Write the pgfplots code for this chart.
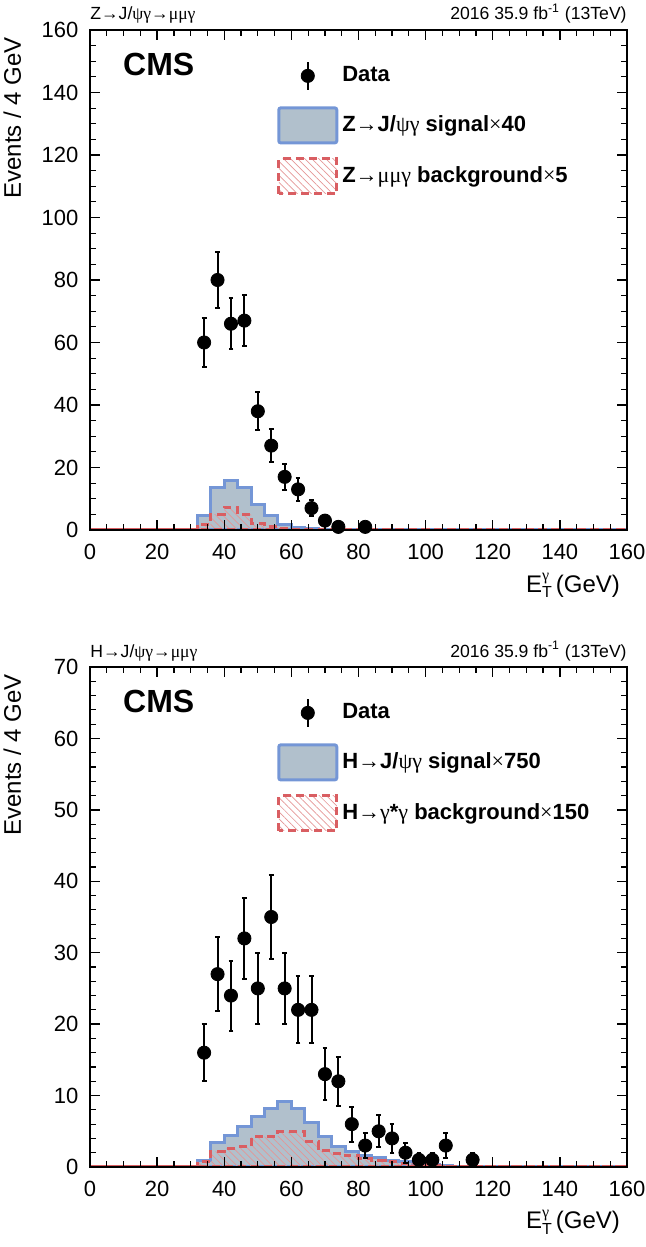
\documentclass[border=0pt]{standalone}
\usepackage{fontspec}
\setmainfont{Liberation Sans}
\newfontfamily\symf{Liberation Serif}
\usepackage{pgfplots}
\pgfplotsset{compat=1.18}
\usetikzlibrary{patterns.meta}

\definecolor{sigfill}{RGB}{177,192,204}
\definecolor{sigline}{RGB}{116,150,214}
\definecolor{bkgline}{RGB}{217,94,98}
\definecolor{bkghatch}{RGB}{228,150,150}
\newcommand{\s}[1]{{\symf\mdseries #1}}

\pgfplotsset{
  cmsax/.style={
    scale only axis, width=268.5pt, height=250pt,
    xmin=0, xmax=160, xtick={0,20,...,160}, minor x tick num=3,
    tickwidth=5pt, subtickwidth=3pt,
    major tick style={draw=black, line width=0.65pt},
    minor tick style={draw=black, line width=0.6pt},
    axis line style={line width=0.8pt},
    clip=false, axis on top,
    xticklabel={\pgfmathparse{int(round(\tick))}\pgfmathresult},
    yticklabel={\pgfmathparse{int(round(\tick))}\pgfmathresult},
    tick label style={font=\fontsize{11}{13}\selectfont},
    xticklabel style={yshift=-3.5pt},
    yticklabel style={xshift=-2.3pt},
    label style={font=\fontsize{12}{14}\selectfont},
    ylabel={Events / 4 GeV},
    ylabel style={at={(axis description cs:-0.115,1)}, anchor=south east},
    xlabel={E\rlap{\raisebox{-0.45ex}{\fontsize{8}{9}\selectfont T}}\raisebox{0.9ex}{\fontsize{8}{9}\selectfont\s{γ}}\ (GeV)},
    xlabel style={at={(axis description cs:1,0)}, anchor=base east, yshift=-31pt},
    legend cell align=left,
    legend style={at={(axis description cs:0.348,0.944)}, anchor=north west,
      draw=none, fill=none, inner sep=0pt, row sep=6.5pt,
      font=\bfseries\fontsize{11}{13}\selectfont},
  },
  sig/.style={const plot, draw=sigline, line width=1.5pt, fill=sigfill},
  bkg/.style={const plot, draw=bkgline, line width=1.5pt, dash pattern=on 4pt off 2.5pt,
    pattern={Lines[angle=-45,distance=2.5pt,line width=0.35pt]}, pattern color=bkghatch},
  dat/.style={only marks, mark=*, mark size=3.3pt, black,
    error bars/.cd, y dir=both, y explicit,
    error bar style={line width=1pt, black},
    error mark=|,
    error mark options={mark size=1.2pt, line width=1pt, black}},
  legdata/.style={legend image code/.code={
    \path[draw=none, fill=none] (0pt,-8.75pt) rectangle (29pt,8.75pt);
    \draw[black, line width=1pt] (14.5pt,-7pt) -- (14.5pt,7pt);
    \fill[black] (14.5pt,0pt) circle (3.3pt);}},
  legsig/.style={legend image code/.code={
    \draw[draw=sigline, line width=1.5pt, fill=sigfill, rounded corners=1pt] (0pt,-8.75pt) rectangle (29pt,8.75pt);}},
  legbkg/.style={legend image code/.code={
    \draw[draw=bkgline, line width=1.5pt, dash pattern=on 4pt off 2.5pt,
      pattern={Lines[angle=-45,distance=2.5pt,line width=0.35pt]}, pattern color=bkghatch] (0pt,-8.75pt) rectangle (29pt,8.75pt);}},
}

\pgfplotstableread{
x y e
34 60 7.75
38 80 8.94
42 66 8.12
46 67 8.19
50 38 6.16
54 27 5.20
58 17 4.12
62 13 3.61
66 7 2.65
70 3 1.73
74 1 1.00
82 1 1.00
}\dataZ

\pgfplotstableread{
x y e
34 16 4.00
38 27 5.20
42 24 4.90
46 32 5.66
50 25 5.00
54 35 5.92
58 25 5.00
62 22 4.69
66 22 4.69
70 13 3.61
74 12 3.46
78 6 2.45
82 3 1.73
86 5 2.24
90 4 2.00
94 2 1.41
98 1 1.00
102 1 1.00
106 3 1.73
114 1 1.00
}\dataH

\begin{document}
\begin{tikzpicture}
\begin{axis}[cmsax, at={(0,0)}, anchor=south west,
  ymin=0, ymax=160, ytick={0,20,...,160}, minor y tick num=3]
\addlegendimage{legdata}
\addlegendimage{legsig}
\addlegendimage{legbkg}
\legend{Data, Z\s{→}J/\s{ψγ} signal\s{×}40, Z\s{→μμγ} background\s{×}5}
\addplot[forget plot, sig] coordinates {(0,0) (32,4.6) (36,13.7) (40,15.7) (44,13.7) (48,8.3) (52,4.6) (56,1.9) (60,0.9) (64,0.4) (68,0.2) (72,0) (160,0)} \closedcycle;
\addplot[forget plot, bkg] coordinates {(0,0) (32,1.8) (36,5.1) (40,7.3) (44,5.0) (48,2.1) (52,1.0) (56,0.5) (60,0.25) (64,0.1) (68,0) (160,0)} \closedcycle;
\addplot[forget plot, dat] table[x=x, y=y, y error=e] {\dataZ};
\node[anchor=base west, inner sep=0pt, yshift=5pt, font=\fontsize{8.8}{10}\selectfont] at (rel axis cs:0,1) {Z\s{→}J/\s{ψγ→μμγ}};
\node[anchor=base east, inner sep=0pt, yshift=5pt, font=\fontsize{8.8}{10}\selectfont] at (rel axis cs:1,1) {2016 35.9 fb\textsuperscript{-1} (13TeV)};
\node[anchor=west, inner sep=0pt, font=\bfseries\fontsize{16}{18}\selectfont] at (rel axis cs:0.061,0.932) {CMS};
\end{axis}

\begin{axis}[cmsax, at={(0,-68.5pt)}, anchor=north west,
  ymin=0, ymax=70, ytick={0,10,...,70}, minor y tick num=4]
\addlegendimage{legdata}
\addlegendimage{legsig}
\addlegendimage{legbkg}
\legend{Data, H\s{→}J/\s{ψγ} signal\s{×}750, H\s{→γ}*\s{γ} background\s{×}150}
\addplot[forget plot, sig] coordinates {(0,0) (32,0.85) (36,3.4) (40,4.4) (44,5.7) (48,7.1) (52,8.2) (56,9.1) (60,8.2) (64,6.2) (68,4.3) (72,2.8) (76,2.1) (80,1.6) (84,1.3) (88,0.9) (92,0.7) (96,0.5) (100,0.3) (104,0.2) (108,0.1) (112,0.05) (116,0) (160,0)} \closedcycle;
\addplot[forget plot, bkg] coordinates {(0,0) (32,0.7) (36,2.2) (40,2.6) (44,2.8) (48,4.2) (52,4.3) (56,4.9) (60,4.9) (64,3.5) (68,2.3) (72,1.9) (76,1.6) (80,1.2) (84,0.9) (88,0.7) (92,0.5) (96,0.3) (100,0.2) (104,0.1) (108,0) (160,0)} \closedcycle;
\addplot[forget plot, dat] table[x=x, y=y, y error=e] {\dataH};
\node[anchor=base west, inner sep=0pt, yshift=5pt, font=\fontsize{8.8}{10}\selectfont] at (rel axis cs:0,1) {H\s{→}J/\s{ψγ→μμγ}};
\node[anchor=base east, inner sep=0pt, yshift=5pt, font=\fontsize{8.8}{10}\selectfont] at (rel axis cs:1,1) {2016 35.9 fb\textsuperscript{-1} (13TeV)};
\node[anchor=west, inner sep=0pt, font=\bfseries\fontsize{16}{18}\selectfont] at (rel axis cs:0.061,0.932) {CMS};
\end{axis}
\pgfresetboundingbox
\useasboundingbox (-45pt,-358.5pt) rectangle (278pt,265pt);
\end{tikzpicture}
\end{document}
